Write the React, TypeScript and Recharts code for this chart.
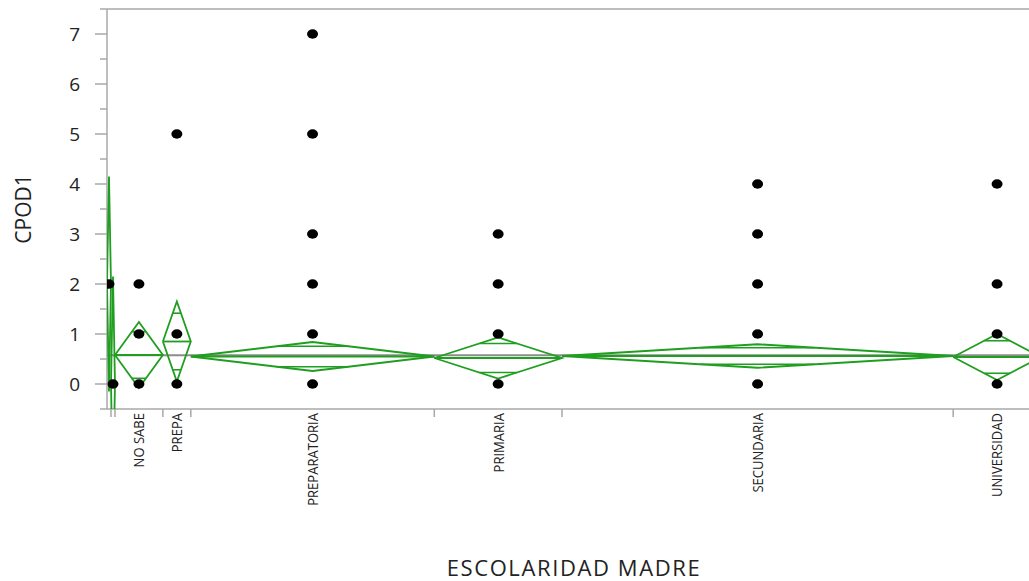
import { ComposedChart, XAxis, YAxis, Scatter, ReferenceLine } from "recharts";

// CPOD1 by mother's schooling, one-way layout: group width follows group size
const categories = ["", "", "NO SABE", "PREPA", "PREPARATORIA", "PRIMARIA", "SECUNDARIA", "UNIVERSIDAD"];
const counts = [1, 1, 12, 7, 61, 32, 98, 22];
const means = [2.0, 0.0, 0.58, 0.85, 0.55, 0.52, 0.56, 0.54];
const ciHalf = [2.15, 2.15, 0.66, 0.8, 0.29, 0.41, 0.235, 0.46];
const cpodValues = [
  [2],
  [0],
  [0, 1, 2],
  [0, 1, 5],
  [0, 1, 2, 3, 5, 7],
  [0, 1, 2, 3],
  [0, 1, 2, 3, 4],
  [0, 1, 2, 4],
];
const grandMean = 0.575;
const yTicks = [-0.5, 0, 0.5, 1, 1.5, 2, 2.5, 3, 3.5, 4, 4.5, 5, 5.5, 6, 6.5, 7, 7.5];

const W = 1029;
const H = 581;
const X_MAX = 231; // only part of the last group fits in the frame
const GREEN = "#1f9e1f";
const AXIS = "#a8a8a8";
const FONT = "'Open Sans', sans-serif";
const OVERLAP = 1 / Math.SQRT2;

const starts: number[] = [];
counts.reduce((acc, n) => {
  starts.push(acc);
  return acc + n;
}, 0);

const groups = categories.map((name, i) => ({
  name,
  start: starts[i],
  end: starts[i] + counts[i],
  mid: starts[i] + counts[i] / 2,
  mean: means[i],
  half: ciHalf[i],
}));

const diamonds = groups.map((g) => [
  { x: g.start, y: g.mean },
  { x: g.mid, y: g.mean + g.half },
  { x: g.end, y: g.mean },
  { x: g.mid, y: g.mean - g.half },
  { x: g.start, y: g.mean },
]);

const meanLines = groups.map((g) => [
  { x: g.start, y: g.mean },
  { x: g.end, y: g.mean },
]);

const overlapMarks = groups.flatMap((g) => {
  const dx = ((g.end - g.start) / 2) * (1 - OVERLAP);
  const dy = g.half * OVERLAP;
  return [g.mean + dy, g.mean - dy].map((y) => [
    { x: g.mid - dx, y },
    { x: g.mid + dx, y },
  ]);
});

const points = groups.flatMap((g, i) => cpodValues[i].map((v) => ({ x: g.mid, y: v })));

const boundaries = starts.slice(1);
const labelled = groups.filter((g) => g.name !== "");
const xTicks = [...boundaries, ...labelled.map((g) => g.mid)].sort((a, b) => a - b);

const YTick = (props: any) => {
  const { x, y, payload } = props;
  const v = payload.value as number;
  const major = Number.isInteger(v);
  return (
    <g>
      <line x1={x - (major ? 12 : 7)} x2={x} y1={y} y2={y} stroke={AXIS} strokeWidth={1.5} />
      {major && (
        <text x={x - 27} y={y} dy="0.36em" textAnchor="end" fontSize={19} fill="#222" fontFamily={FONT}>
          {v}
        </text>
      )}
    </g>
  );
};

const XTick = (props: any) => {
  const { x, y, payload } = props;
  const v = payload.value as number;
  if (boundaries.some((b) => Math.abs(b - v) < 1e-6)) {
    return <line x1={x} x2={x} y1={y} y2={y + 8} stroke={AXIS} strokeWidth={1.5} />;
  }
  const g = labelled.find((c) => Math.abs(c.mid - v) < 1e-6);
  if (!g) return <g />;
  return (
    <text
      transform={`translate(${x},${y + 4}) rotate(-90) scale(0.87,1)`}
      dy="0.36em"
      textAnchor="end"
      fontSize={15}
      fill="#222"
      fontFamily={FONT}
    >
      {g.name}
    </text>
  );
};

const Dot = (props: any) => <ellipse cx={props.cx} cy={props.cy} rx={5.5} ry={4.7} fill="#000" />;
const NoDot = () => <g />;

export default function App() {
  return (
    <div style={{ position: "absolute", left: 0, top: 0, width: W, height: H, overflow: "hidden", background: "#fff" }}>
      <ComposedChart width={W} height={H} margin={{ top: 9, right: 0, bottom: 0, left: 0 }}>
        <XAxis
          type="number"
          dataKey="x"
          domain={[0, X_MAX]}
          allowDataOverflow
          ticks={xTicks}
          interval={0}
          tickSize={0}
          tickMargin={0}
          tickLine={false}
          tick={<XTick />}
          axisLine={{ stroke: AXIS, strokeWidth: 1.5 }}
          height={172}
        />
        <YAxis
          type="number"
          dataKey="y"
          domain={[-0.5, 7.5]}
          allowDataOverflow
          ticks={yTicks}
          interval={0}
          tickSize={0}
          tickMargin={0}
          tickLine={false}
          tick={<YTick />}
          axisLine={{ stroke: AXIS, strokeWidth: 1.5 }}
          width={107}
        />
        <ReferenceLine y={7.5} stroke={AXIS} strokeWidth={1.5} />
        <ReferenceLine y={grandMean} stroke="#8c8c8c" strokeWidth={2} />
        {diamonds.map((d, i) => (
          <Scatter
            key={`d${i}`}
            data={d}
            line={{ stroke: GREEN, strokeWidth: 1.8 }}
            shape={NoDot}
            isAnimationActive={false}
          />
        ))}
        {meanLines.map((d, i) => (
          <Scatter
            key={`m${i}`}
            data={d}
            line={{ stroke: GREEN, strokeWidth: 1.8 }}
            shape={NoDot}
            isAnimationActive={false}
          />
        ))}
        {overlapMarks.map((d, i) => (
          <Scatter
            key={`o${i}`}
            data={d}
            line={{ stroke: GREEN, strokeWidth: 1.6 }}
            shape={NoDot}
            isAnimationActive={false}
          />
        ))}
        <Scatter data={points} shape={Dot} isAnimationActive={false} />
      </ComposedChart>
      <svg width={W} height={H} style={{ position: "absolute", left: 0, top: 0, pointerEvents: "none" }}>
        <text
          x={574}
          y={576}
          textAnchor="middle"
          fontSize={22}
          letterSpacing={1.6}
          fill="#222"
          fontFamily={FONT}
        >
          ESCOLARIDAD MADRE
        </text>
        <text
          transform="translate(23,209) rotate(-90)"
          dy="0.36em"
          textAnchor="middle"
          fontSize={21}
          fill="#222"
          fontFamily={FONT}
        >
          CPOD1
        </text>
      </svg>
    </div>
  );
}
